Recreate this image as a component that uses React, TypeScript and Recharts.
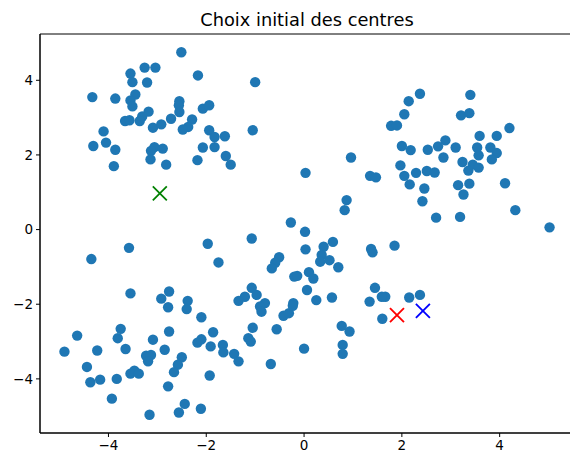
import React from "react";
import { ScatterChart, Scatter, XAxis, YAxis, ReferenceArea } from "recharts";

const clusterTopLeft: [number, number][] = [
  [-2.51, 4.75], [-3.26, 4.34], [-3.04, 4.34], [-3.55, 4.18], [-3.51, 3.95], [-3.21, 3.94],
  [-2.17, 4.13], [-4.33, 3.55], [-3.86, 3.51], [-3.45, 3.62], [-3.55, 3.46], [-3.51, 3.3],
  [-2.55, 3.44], [-2.56, 3.33], [-2.55, 3.15], [-3.18, 3.16], [-3.31, 3.03], [-3.36, 2.91],
  [-3.66, 2.91], [-3.57, 2.93], [-3.09, 2.73], [-2.92, 2.82], [-2.72, 2.97], [-2.29, 2.95],
  [-2.37, 2.75], [-2.48, 2.68], [-2.07, 3.24], [-1.94, 3.33], [-4.1, 2.63], [-4.05, 2.33],
  [-4.31, 2.24], [-3.86, 2.14], [-3.06, 2.21], [-3.13, 2.11], [-2.89, 2.17], [-3.14, 1.88],
  [-2.82, 1.74], [-3.89, 1.7], [-2.18, 1.86], [-1.94, 2.66], [-2.07, 2.2], [-1.83, 2.48],
  [-1.83, 2.21], [-1.0, 3.95], [-1.62, 2.5], [-1.05, 2.66], [-1.6, 1.97], [-1.5, 1.74],
];

const clusterTopRight: [number, number][] = [
  [0.96, 1.93], [0.03, 1.52], [2.37, 3.64], [2.14, 3.44], [2.05, 3.09], [1.78, 2.78],
  [1.9, 2.79], [3.4, 3.61], [3.21, 3.06], [3.38, 3.12], [4.2, 2.72], [3.59, 2.51],
  [3.94, 2.51], [2.0, 2.24], [2.18, 2.13], [2.53, 2.14], [2.74, 2.23], [2.89, 2.39],
  [3.1, 2.2], [3.54, 2.2], [3.81, 2.2], [3.94, 2.05], [3.57, 1.99], [2.85, 1.93],
  [3.84, 1.88], [3.24, 1.81], [3.45, 1.74], [3.57, 1.66], [3.36, 1.58], [1.97, 1.72],
  [2.29, 1.52], [2.51, 1.57], [2.67, 1.53], [2.05, 1.44], [2.16, 1.21], [2.46, 1.1],
  [2.42, 0.76], [2.7, 0.32], [3.19, 0.34], [3.15, 1.19], [3.26, 0.94], [3.38, 1.23],
  [4.11, 1.24], [4.32, 0.52], [5.02, 0.06], [1.35, 1.44], [1.47, 1.4],
];

const clusterMiddle: [number, number][] = [
  [1.85, -0.43], [1.66, -1.8], [2.15, -1.82], [2.37, -1.75], [0.87, 0.79], [0.83, 0.52],
  [-0.27, 0.19], [0.02, -0.06], [-1.07, -0.24], [-1.97, -0.38], [0.59, -0.33], [0.4, -0.46],
  [0.03, -0.53], [1.37, -0.52], [1.4, -0.61], [0.36, -0.68], [0.33, -0.86], [0.52, -0.82],
  [0.7, -1.01], [-0.51, -0.74], [-0.59, -0.89], [-0.66, -1.04], [-1.75, -0.88], [0.1, -1.14],
  [0.19, -1.31], [-0.2, -1.26], [-0.14, -1.24], [0.06, -1.62], [1.45, -1.56], [1.59, -1.8],
  [-1.07, -1.56], [-0.97, -1.75], [-1.21, -1.8], [-1.34, -1.91], [-0.8, -1.97], [-0.22, -1.97],
  [0.25, -1.89], [0.57, -1.82], [1.34, -1.93], [-1.66, -3.09], [-1.65, -3.29], [-1.43, -3.33],
  [-1.34, -3.53], [-1.05, -2.63], [-1.14, -2.91], [-1.09, -3.0], [-0.68, -3.6], [-0.56, -2.67],
  [-0.42, -2.31], [-0.31, -2.24], [-0.23, -2.04], [-0.9, -2.06], [-0.87, -2.2], [0.0, -3.19],
  [0.77, -2.58], [0.93, -2.73], [0.79, -3.09], [0.79, -3.33], [1.6, -2.39],
];

const clusterBottomLeft: [number, number][] = [
  [-3.58, -0.49], [-4.35, -0.79], [-3.55, -1.71], [-2.92, -1.85], [-2.76, -1.66], [-2.38, -1.91],
  [-2.78, -2.08], [-2.4, -2.13], [-2.1, -2.35], [-3.75, -2.66], [-3.81, -2.91], [-4.64, -2.84],
  [-2.76, -2.73], [-3.09, -2.95], [-1.86, -2.75], [-2.18, -3.03], [-2.1, -2.94], [-1.91, -3.13],
  [-4.9, -3.27], [-4.23, -3.24], [-3.65, -3.2], [-2.85, -3.22], [-3.23, -3.38], [-3.13, -3.36],
  [-3.19, -3.53], [-2.5, -3.42], [-2.58, -3.62], [-2.66, -3.82], [-4.44, -3.68], [-3.47, -3.78],
  [-3.55, -3.86], [-3.38, -3.86], [-4.37, -4.09], [-4.17, -4.02], [-3.83, -4.0], [-1.93, -3.91],
  [-2.78, -4.2], [-3.93, -4.53], [-2.44, -4.67], [-2.56, -4.9], [-2.11, -4.8], [-3.16, -4.96],
];

const centerNames = ["c1", "c2", "c3"];
const centerX = [-2.95, 1.9, 2.43];
const centerY = [0.97, -2.29, -2.18];
const centerColors = ["#008000", "#ff0000", "#0000ff"];

const xTicks = [-4, -2, 0, 2, 4];
const yTicks = [-4, -2, 0, 2, 4];
const xDomain: [number, number] = [-5.4, 5.52];
const yDomain: [number, number] = [-5.45, 5.24];
const title = "Choix initial des centres";

const points = [...clusterTopLeft, ...clusterTopRight, ...clusterMiddle, ...clusterBottomLeft].map(
  ([x, y]) => ({ x, y })
);
const centers = centerNames.map((n, i) => ({ name: n, x: centerX[i], y: centerY[i], color: centerColors[i] }));

const fmt = (v: number) => (v < 0 ? "\u2212" + Math.abs(v) : String(v));

const Dot = (p: any) => <circle cx={p.cx} cy={p.cy} r={5.2} fill="#1f77b4" />;
const Cross = (p: any) => {
  const s = 7;
  const c = p.payload?.color || "#000";
  return (
    <g>
      <line x1={p.cx - s} y1={p.cy - s} x2={p.cx + s} y2={p.cy + s} stroke={c} strokeWidth={1.8} />
      <line x1={p.cx - s} y1={p.cy + s} x2={p.cx + s} y2={p.cy - s} stroke={c} strokeWidth={1.8} />
    </g>
  );
};

const tickStyle = { fontFamily: "DejaVu Sans", fontSize: 13.5, fill: "#000" };

export default function App() {
  return (
    <div
      style={{
        position: "absolute",
        left: 0,
        top: 0,
        width: 570,
        height: 457,
        overflow: "hidden",
        background: "#fff",
      }}
    >
      <div
        style={{
          position: "absolute",
          left: 40,
          width: 534,
          top: 11,
          textAlign: "center",
          fontFamily: "DejaVu Sans",
          fontSize: 17.8,
          lineHeight: "17.8px",
          color: "#000",
        }}
      >
        {title}
      </div>
      <ScatterChart width={580} height={457} margin={{ top: 34, right: 6, bottom: 0, left: 0 }}>
        <XAxis
          type="number"
          dataKey="x"
          domain={xDomain}
          ticks={xTicks}
          tickFormatter={fmt}
          height={24}
          tickSize={4}
          tickMargin={3}
          tick={tickStyle}
          stroke="#000"
          allowDataOverflow
        />
        <YAxis
          type="number"
          dataKey="y"
          domain={yDomain}
          ticks={yTicks}
          tickFormatter={fmt}
          width={40}
          tickSize={4}
          tickMargin={3}
          tick={tickStyle}
          stroke="#000"
          allowDataOverflow
        />
        <ReferenceArea
          x1={xDomain[0]}
          x2={xDomain[1]}
          y1={yDomain[0]}
          y2={yDomain[1]}
          fill="none"
          stroke="#000"
          strokeWidth={1}
          ifOverflow="visible"
        />
        <Scatter data={points} shape={Dot} isAnimationActive={false} />
        <Scatter data={centers} shape={Cross} isAnimationActive={false} />
      </ScatterChart>
    </div>
  );
}
